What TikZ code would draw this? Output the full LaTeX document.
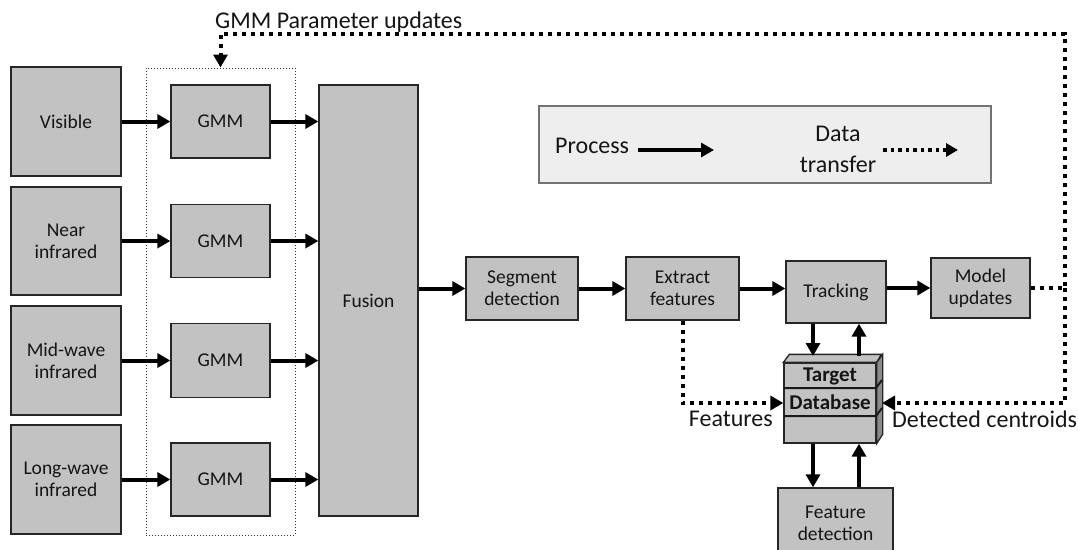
\documentclass[tikz,border=0pt]{standalone}
\usepackage{fontspec}
\setmainfont{Carlito}
\usetikzlibrary{arrows.meta}
\definecolor{boxgray}{HTML}{C2C2C2}
\definecolor{sidegray}{HTML}{8A8A8A}
\definecolor{legendfill}{HTML}{EEEEEE}
\definecolor{txt}{HTML}{151515}
\tikzset{
  box/.style={draw=black!85, line width=1.3pt, fill=boxgray, text=txt,
    font=\fontsize{19.5}{22}\selectfont, align=center, inner sep=0pt},
  biglabel/.style={text=txt, font=\fontsize{24}{31}\selectfont, align=center, inner sep=0pt},
  flow/.style={draw=black, line width=4pt, -{Triangle[length=13pt,width=14pt]}},
  dataflow/.style={draw=black, line width=4pt, dash pattern=on 4pt off 5pt,
    -{Triangle[length=13pt,width=14pt]}},
  legenddata/.style={draw=black, line width=3.5pt, dash pattern=on 3.5pt off 4pt,
    -{Triangle[length=12pt,width=13pt]}},
  divider/.style={draw=black!90, line width=2pt}
}
\begin{document}
\begin{tikzpicture}[x=1pt,y=-1pt]
\clip (0,0) rectangle (1078,549);
\fill[white] (0,0) rectangle (1078,549);

% sensor inputs
\node[box, minimum width=110, minimum height=109] (vis)  at (66,121.5) {Visible};
\node[box, minimum width=110, minimum height=108] (nir)  at (66,241)   {Near\\infrared};
\node[box, minimum width=110, minimum height=109] (mwir) at (66,360.5) {Mid-wave\\infrared};
\node[box, minimum width=110, minimum height=109] (lwir) at (66,479.5) {Long-wave\\infrared};

% background models
\node[draw=black!80, line width=1pt, dotted, minimum width=149, minimum height=467, inner sep=0pt]
  (bank) at (220.5,301.5) {};
\node[box, minimum width=99, minimum height=73] (g1) at (220.5,121.5) {GMM};
\node[box, minimum width=99, minimum height=73] (g2) at (220.5,241)   {GMM};
\node[box, minimum width=99, minimum height=74] (g3) at (220.5,360.5) {GMM};
\node[box, minimum width=99, minimum height=73] (g4) at (220.5,479.5) {GMM};

\node[box, minimum width=99, minimum height=431] (fusion) at (368.5,300.5) {Fusion};

% processing chain
\node[box, minimum width=112, minimum height=63] (seg)   at (522,288.5)   {Segment\\detection};
\node[box, minimum width=113, minimum height=63] (ext)   at (682.5,288.5) {Extract\\features};
\node[box, minimum width=100, minimum height=62] (track) at (836,292)     {Tracking};
\node[box, minimum width=99,  minimum height=60] (model) at (980.5,288)   {Model\\updates};
\node[box, minimum width=115, minimum height=70] (feat)  at (835.5,523)   {Feature\\detection};

% target database drawn as a box in perspective
\node[box, minimum width=92, minimum height=80] (db) at (830,403) {};
\draw[fill=boxgray, draw=black!85, line width=1.3pt]
  (db.north west) -- ++(6,-8) -- ++(92,0) -- (db.north east) -- cycle;
\draw[fill=sidegray, draw=black!85, line width=1.3pt]
  (db.north east) -- ++(6,-8) -- ++(0,80) -- (db.south east) -- cycle;
\draw[divider] (784,388) -- (876,388) -- ++(6,-8);
\draw[divider] (784,416) -- (876,416) -- ++(6,-8);
\node[text=txt, font=\fontsize{21}{22}\selectfont\bfseries, inner sep=0pt] (dbt1) at (830,376) {Target};
\node[text=txt, font=\fontsize{21}{22}\selectfont\bfseries, inner sep=0pt] (dbt2) at (830,402) {Database};
\coordinate (dbside) at (882,403);
\coordinate (dbtop) at (830,356);

% legend
\node[draw=black!55, line width=1.5pt, fill=legendfill, minimum width=452, minimum height=77, inner sep=0pt]
  (legend) at (765,144.5) {};
\node[biglabel, anchor=west] (lproc) at (555,146) {Process};
\coordinate (lp1) at (638,150);
\coordinate (lp2) at (714,150);
\draw[flow] (lp1) -- (lp2);
\node[biglabel] (ldata) at (838,149) {Data\\transfer};
\coordinate (ld1) at (883,150);
\coordinate (ld2) at (958,150);
\draw[legenddata] (ld1) -- (ld2);

% process arrows
\foreach \s/\g in {vis/g1, nir/g2, mwir/g3, lwir/g4}{
  \draw[flow] (\s.east) -- (\g.west);
  \draw[flow] (\g.east) -- (\g.east -| fusion.west);
}
\draw[flow] (fusion.east |- seg.west) -- (seg.west);
\draw[flow] (seg.east) -- (ext.west);
\draw[flow] (ext.east) -- (ext.east -| track.west);
\draw[flow] (track.east |- model.west) -- (model.west);
\draw[flow] ([xshift=-23pt]track.south) -- ([xshift=-23pt]track.south |- dbtop);
\draw[flow] ([xshift=23pt]track.south |- dbtop) -- ([xshift=23pt]track.south);
\draw[flow] ([xshift=-17pt]db.south) -- ([xshift=-17pt]db.south |- feat.north);
\draw[flow] ([xshift=29pt]db.south |- feat.north) -- ([xshift=29pt]db.south);

% data transfer
\coordinate (jn) at (1065,288);
\coordinate (tr) at (1065,34);
\coordinate (tl) at (bank.north |- tr);
\draw[dataflow] (model.east) -- (jn) -- (tr) -- (tl) -- (bank.north);
\draw[dataflow] (jn) -- (jn |- dbside) -- (dbside);
\draw[dataflow] (ext.south) |- (db.west);

% labels
\node[biglabel, anchor=base west] (gmmlab) at (215,28) {GMM Parameter updates};
\node[biglabel, anchor=north east] (featlab) at (773,411) {Features};
\node[biglabel, anchor=north west] (centlab) at (892,411) {Detected centroids};
\end{tikzpicture}
\end{document}
